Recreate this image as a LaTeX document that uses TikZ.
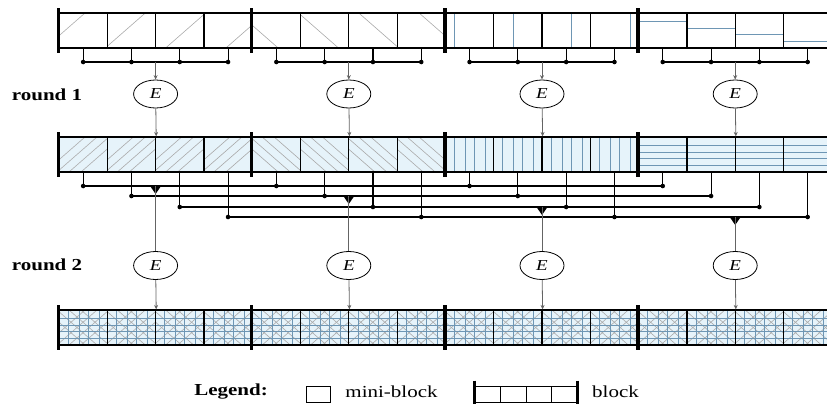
\documentclass[tikz,border=0pt]{standalone}
\usepackage{fontspec}
\setmainfont{Liberation Serif}
\usetikzlibrary{arrows.meta}
\usetikzlibrary{shapes.geometric}
\usetikzlibrary{calc}
\usetikzlibrary{positioning}

\definecolor{cellblue}{RGB}{230,243,250}
\definecolor{hatchblue}{RGB}{110,150,180}
\definecolor{hatchgray}{RGB}{170,170,170}
\definecolor{wiregray}{RGB}{100,100,100}

\newcommand{\mw}{48.3}
\newcommand{\squash}[1]{\scalebox{1}[0.8]{#1}}
% one hatch line of a mini-block: type, index (origin = top left corner)
\newcommand{\patline}[2]{%
  \pgfmathsetmacro{\po}{6+12*#2}%
  \pgfmathsetmacro{\pv}{{9,20,29,40}[#2]}%
  \pgfmathsetmacro{\ph}{{8,15,21,28}[#2]}%
  \ifcase#1\relax
    \draw[hatchg] (\po-20,35) -- (\po+20,0);
  \or
    \draw[hatchg] (\po-20,0) -- (\po+20,35);
  \or
    \draw[hatchb] (\pv,0) -- (\pv,35);
  \or
    \draw[hatchb] (0,\ph) -- (\mw,\ph);
  \fi}

\begin{document}
\begin{tikzpicture}[x=1pt,y=-1pt,line width=1.2pt,
    >={Stealth[length=4.5pt,width=4pt]},
    mini/.style={draw, rectangle, minimum width=\mw pt, minimum height=35pt, inner sep=0pt},
    legmini/.style={draw, rectangle, minimum height=16pt, inner sep=0pt, line width=1pt},
    bar/.style={line width=3.6pt},
    enc/.style={draw, ellipse, line width=0.8pt, minimum width=44pt, minimum height=28pt,
                inner sep=0pt, font=\fontsize{19}{19}\selectfont\itshape},
    lbl/.style={inner sep=0pt, font=\fontsize{21}{21}\selectfont\bfseries},
    txt/.style={inner sep=0pt, font=\fontsize{21}{21}\selectfont},
    wire/.style={line width=1.1pt},
    thinwire/.style={line width=0.8pt, draw=wiregray},
    hatchg/.style={draw=hatchgray, line width=0.6pt},
    hatchb/.style={draw=hatchblue, line width=0.6pt}]
\useasboundingbox (0,0) rectangle (827,404);

% light fill behind rows 2 and 3
\fill[cellblue] (59,137) rectangle (835,172);
\fill[cellblue] (59,310) rectangle (835,345);

% hatches: row 1 one line per mini-block, row 2 the block's hatch, row 3 all of them
\foreach \b in {0,...,3}
  \foreach \k in {0,...,3} {
    \pgfmathsetmacro{\xl}{59+\mw*(4*\b+\k)}
    \begin{scope}
      \clip (\xl,13) rectangle ++(\mw,35);
      \begin{scope}[shift={(\xl,13)}] \patline{\b}{\k} \end{scope}
    \end{scope}
    \begin{scope}
      \clip (\xl,137) rectangle ++(\mw,35);
      \begin{scope}[shift={(\xl,137)}]
        \foreach \j in {0,...,3} {\patline{\b}{\j}}
      \end{scope}
    \end{scope}
    \begin{scope}
      \clip (\xl,310) rectangle ++(\mw,35);
      \begin{scope}[shift={(\xl,310)}]
        \foreach \t in {0,...,3}
          \foreach \j in {0,...,3} {\patline{\t}{\j}}
      \end{scope}
    \end{scope}
  }

% mini-blocks
\foreach \b in {0,...,3}
  \foreach \k in {0,...,3} {
    \pgfmathsetmacro{\xc}{59+\mw*(4*\b+\k+0.5)}
    \node[mini] (r1-\b-\k) at (\xc,30.5) {};
    \node[mini] (r2-\b-\k) at (\xc,154.5) {};
    \node[mini] (r3-\b-\k) at (\xc,327.5) {};
  }

% block borders
\foreach \r in {1,2,3}
  \foreach \b in {0,...,3}
    \draw[bar] ([yshift=4pt]r\r-\b-0.north west) -- ([yshift=-4pt]r\r-\b-0.south west);

\node[lbl] (rnd1) at (47,95) {\squash{round 1}};
\node[lbl] (rnd2) at (47,265) {\squash{round 2}};

% round 1
\foreach \b in {0,...,3} {
  \pgfmathsetmacro{\xm}{59+\mw*(4*\b+2)}
  \node[enc] (e1-\b) at (\xm,94) {\squash{E}};
  \node[enc] (e2-\b) at (\xm,265.5) {\squash{E}};
  \coordinate (m1-\b) at (\xm,62);
  \foreach \k in {0,...,3} {
    \pgfmathsetmacro{\xc}{59+\mw*(4*\b+\k+0.5)}
    \coordinate (s1-\b-\k) at (\xc,62);
    \draw[wire] (r1-\b-\k.south) -- (s1-\b-\k);
    \fill (s1-\b-\k) circle (2.3pt);
  }
  \draw[wire] (s1-\b-0) -- (s1-\b-3);
  \draw[thinwire,->] (m1-\b) -- (e1-\b);
  \draw[thinwire,->] (e1-\b) -- (r2-\b-1.north east);
}

% round 2: mini-block k of every block goes to level k
\foreach \b in {0,...,3}
  \foreach \k/\ly in {0/186,1/196,2/207,3/217} {
    \pgfmathsetmacro{\xc}{59+\mw*(4*\b+\k+0.5)}
    \coordinate (s2-\b-\k) at (\xc,\ly);
    \draw[wire] (r2-\b-\k.south) -- (s2-\b-\k);
    \fill (s2-\b-\k) circle (2.3pt);
  }
\foreach \k in {0,...,3}
  \draw[wire] (s2-0-\k) -- (s2-3-\k);

\foreach \b/\ly in {0/186,1/196,2/207,3/217} {
  \pgfmathsetmacro{\xm}{59+\mw*(4*\b+2)}
  \coordinate (tap-\b) at (\xm,\ly);
  \fill (tap-\b) ++(-5.5,0) -- ++(11,0) -- ++(-5.5,8) -- cycle;
  \draw[thinwire] (tap-\b) -- (e2-\b);
  \draw[thinwire,->] (e2-\b) -- (r3-\b-1.north east);
}

% legend
\node[lbl] (leg) at (231,392) {\squash{Legend:}};
\node[legmini, minimum width=24pt] (lg-sq) at (318,394) {};
\node[txt] (lg-mini) at (391.5,392) {\squash{mini-block}};
\foreach \k in {0,...,3}
  \node[legmini, minimum width=25.5pt] (lg-\k) at (475+25.5*\k+12.75,394) {};
\draw[bar] ([yshift=5pt]lg-0.north west) -- ([yshift=-6pt]lg-0.south west);
\draw[bar] ([yshift=5pt]lg-3.north east) -- ([yshift=-6pt]lg-3.south east);
\node[txt] (lg-blk) at (615.5,392) {\squash{block}};
\end{tikzpicture}
\end{document}
